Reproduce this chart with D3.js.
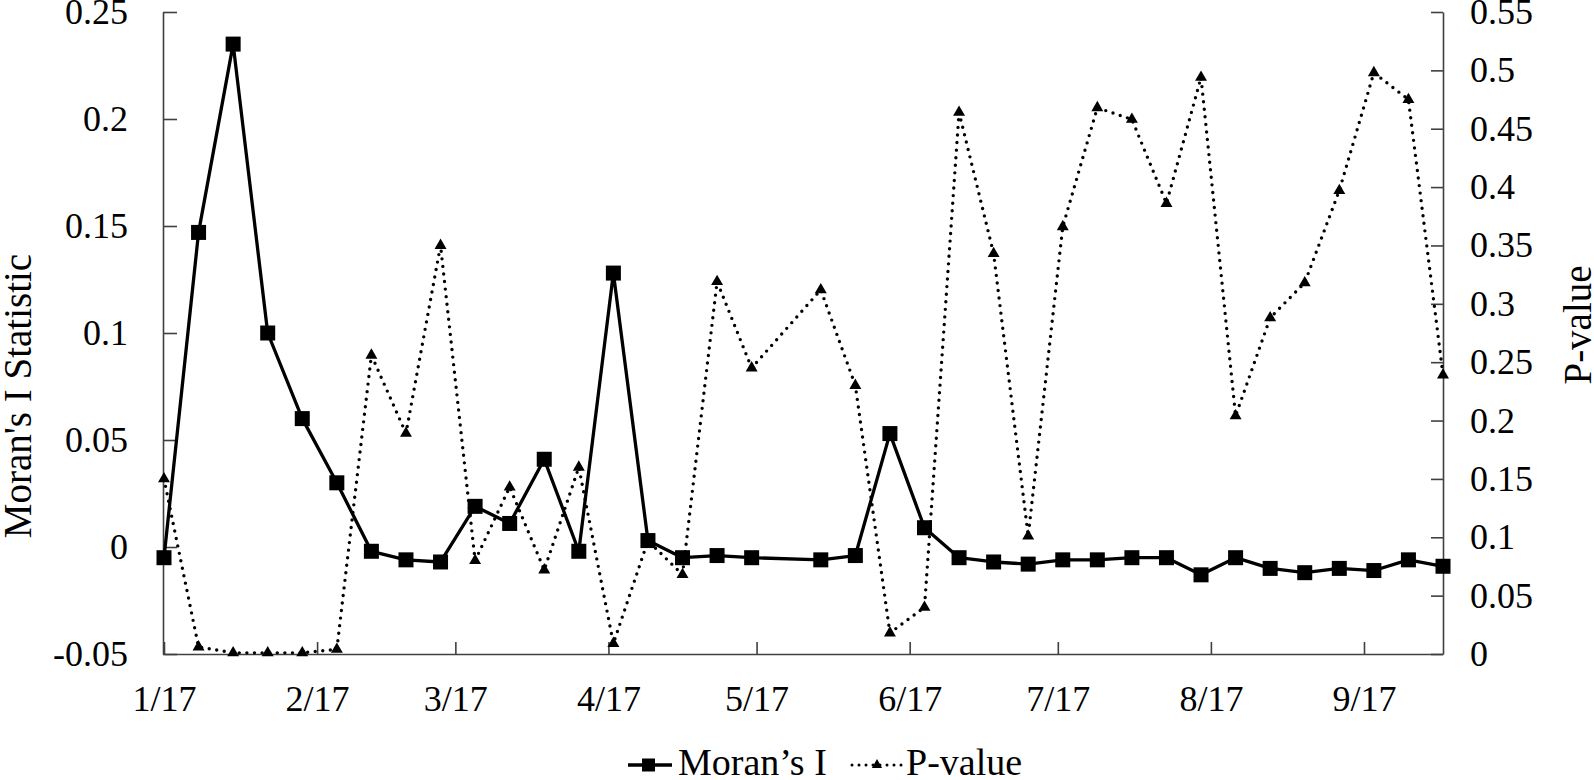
<!DOCTYPE html>
<html lang="en">
<head>
	<meta charset="utf-8"/>
	<title>Moran's I and P-value</title>
	<script src="https://d3js.org/d3.v7.min.js" charset="utf-8"></script>
	<style>
		body { margin: 0; background: #fff; }
		svg text { font-family: "Liberation Serif", "Times New Roman", serif; fill: #000; }
		.axis .domain, .axis line { stroke: #404040; stroke-width: 1.6px; }
	</style>
</head>
<body>
<div id="chart"></div>

<script>
	// weekly observations (week of 7 May is missing in the source)
	var dates = ["2017-01-01", "2017-01-08", "2017-01-15", "2017-01-22", "2017-01-29",
		"2017-02-05", "2017-02-12", "2017-02-19", "2017-02-26",
		"2017-03-05", "2017-03-12", "2017-03-19", "2017-03-26",
		"2017-04-02", "2017-04-09", "2017-04-16", "2017-04-23", "2017-04-30",
		"2017-05-14", "2017-05-21", "2017-05-28",
		"2017-06-04", "2017-06-11", "2017-06-18", "2017-06-25",
		"2017-07-02", "2017-07-09", "2017-07-16", "2017-07-23", "2017-07-30",
		"2017-08-06", "2017-08-13", "2017-08-20", "2017-08-27",
		"2017-09-03", "2017-09-10", "2017-09-17"];

	var moransI = [-0.005, 0.147, 0.235, 0.100, 0.060,
		0.030, -0.002, -0.006, -0.007,
		0.019, 0.011, 0.041, -0.002,
		0.128, 0.003, -0.005, -0.004, -0.005,
		-0.006, -0.004, 0.053,
		0.009, -0.005, -0.007, -0.008,
		-0.006, -0.006, -0.005, -0.005, -0.013,
		-0.005, -0.010, -0.012, -0.010,
		-0.011, -0.006, -0.009];

	var pValues = [0.150, 0.006, 0.001, 0.001, 0.001,
		0.004, 0.256, 0.189, 0.350,
		0.080, 0.143, 0.072, 0.160,
		0.009, 0.097, 0.068, 0.319, 0.245,
		0.312, 0.230, 0.018,
		0.040, 0.464, 0.343, 0.101,
		0.366, 0.468, 0.458, 0.386, 0.494,
		0.204, 0.288, 0.318, 0.397,
		0.498, 0.475, 0.239];

	var monthTicks = ["2017-01-01", "2017-02-01", "2017-03-01", "2017-04-01", "2017-05-01",
		"2017-06-01", "2017-07-01", "2017-08-01", "2017-09-01"];
	var monthLabels = ["1/17", "2/17", "3/17", "4/17", "5/17", "6/17", "7/17", "8/17", "9/17"];

	var leftTicks = [-0.05, 0, 0.05, 0.1, 0.15, 0.2, 0.25];
	var leftTickLabels = ["-0.05", "0", "0.05", "0.1", "0.15", "0.2", "0.25"];
	var rightTicks = [0, 0.05, 0.1, 0.15, 0.2, 0.25, 0.3, 0.35, 0.4, 0.45, 0.5, 0.55];
	var rightTickLabels = ["0", "0.05", "0.1", "0.15", "0.2", "0.25", "0.3", "0.35", "0.4", "0.45", "0.5", "0.55"];

	var width = 1594,
		height = 780;

	var plotLeft = 164, plotRight = 1443, plotTop = 12, plotBottom = 654;

	var parse = d3.timeParse("%Y-%m-%d");

	var data = dates.map(function(d, i) {
		return {date: parse(d), moran: moransI[i], p: pValues[i]};
	});

	var x = d3.scaleTime()
		.domain([parse(dates[0]), parse(dates[dates.length - 1])])
		.range([plotLeft, plotRight]);

	var yLeft = d3.scaleLinear()
		.domain([-0.05, 0.25])
		.range([plotBottom, plotTop]);

	var yRight = d3.scaleLinear()
		.domain([0, 0.55])
		.range([plotBottom, plotTop]);

	var svg = d3.select("#chart").append("svg")
		.attr("width", width)
		.attr("height", height);

	// AXES

	svg.append("g")
		.attr("class", "axis")
		.attr("transform", "translate(" + (plotLeft - 1) + ",0)")
		.call(d3.axisLeft(yLeft)
			.tickValues(leftTicks)
			.tickFormat(function(d, i) { return leftTickLabels[i]; })
			.tickSizeInner(-14).tickSizeOuter(0).tickPadding(35))
		.selectAll("text")
			.attr("font-size", 36);

	svg.append("g")
		.attr("class", "axis")
		.attr("transform", "translate(" + plotRight + ",0)")
		.call(d3.axisRight(yRight)
			.tickValues(rightTicks)
			.tickFormat(function(d, i) { return rightTickLabels[i]; })
			.tickSizeInner(-12).tickSizeOuter(0).tickPadding(27))
		.selectAll("text")
			.attr("font-size", 36);

	svg.append("g")
		.attr("class", "axis")
		.attr("transform", "translate(0," + plotBottom + ")")
		.call(d3.axisBottom(x)
			.tickValues(monthTicks.map(parse))
			.tickFormat(function(d, i) { return monthLabels[i]; })
			.tickSizeInner(-12).tickSizeOuter(0).tickPadding(31))
		.selectAll("text")
			.attr("font-size", 36);

	svg.selectAll(".axis text").attr("fill", "#000");

	// axis titles
	svg.append("text")
		.attr("transform", "translate(31,396) rotate(-90)")
		.attr("text-anchor", "middle")
		.attr("font-size", 39)
		.text("Moran's I Statistic");

	svg.append("text")
		.attr("transform", "translate(1591,325) rotate(-90)")
		.attr("text-anchor", "middle")
		.attr("font-size", 39)
		.text("P-value");

	// P-VALUE (dotted, drawn first so squares sit on top)

	var pLine = d3.line()
		.x(function(d) { return x(d.date); })
		.y(function(d) { return yRight(d.p); });

	var tri = d3.symbol().type(d3.symbolTriangle).size(62);

	svg.append("path")
		.datum(data)
		.attr("d", pLine)
		.attr("fill", "none")
		.attr("stroke", "#000")
		.attr("stroke-width", 3.4)
		.attr("stroke-linecap", "round")
		.attr("stroke-dasharray", "0 7.6");

	svg.append("g")
		.selectAll("path")
		.data(data)
		.enter().append("path")
			.attr("d", tri)
			.attr("transform", function(d) { return "translate(" + x(d.date) + "," + yRight(d.p) + ")"; })
			.attr("fill", "#000");

	// MORAN'S I (solid with squares)

	var mLine = d3.line()
		.x(function(d) { return x(d.date); })
		.y(function(d) { return yLeft(d.moran); });

	svg.append("path")
		.datum(data)
		.attr("d", mLine)
		.attr("fill", "none")
		.attr("stroke", "#000")
		.attr("stroke-width", 3.3)
		.attr("stroke-linejoin", "round");

	svg.append("g")
		.selectAll("rect")
		.data(data)
		.enter().append("rect")
			.attr("x", function(d) { return x(d.date) - 7.5; })
			.attr("y", function(d) { return yLeft(d.moran) - 7.5; })
			.attr("width", 15)
			.attr("height", 15)
			.attr("fill", "#000");

	// LEGEND

	var legend = svg.append("g").attr("transform", "translate(0,765)");

	legend.append("line")
		.attr("x1", 628).attr("x2", 672)
		.attr("stroke", "#000").attr("stroke-width", 3.3);
	legend.append("rect")
		.attr("x", 642).attr("y", -6.5).attr("width", 13).attr("height", 13)
		.attr("fill", "#000");
	legend.append("text")
		.attr("x", 678).attr("y", 10)
		.attr("font-size", 38)
		.text("Moran\u2019s I");

	legend.append("line")
		.attr("x1", 852).attr("x2", 903)
		.attr("stroke", "#000").attr("stroke-width", 3)
		.attr("stroke-linecap", "round")
		.attr("stroke-dasharray", "0 7");
	legend.append("path")
		.attr("d", d3.symbol().type(d3.symbolTriangle).size(45))
		.attr("transform", "translate(877,0)")
		.attr("fill", "#000");
	legend.append("text")
		.attr("x", 906).attr("y", 10)
		.attr("font-size", 38)
		.text("P-value");
</script>
</body>
</html>
